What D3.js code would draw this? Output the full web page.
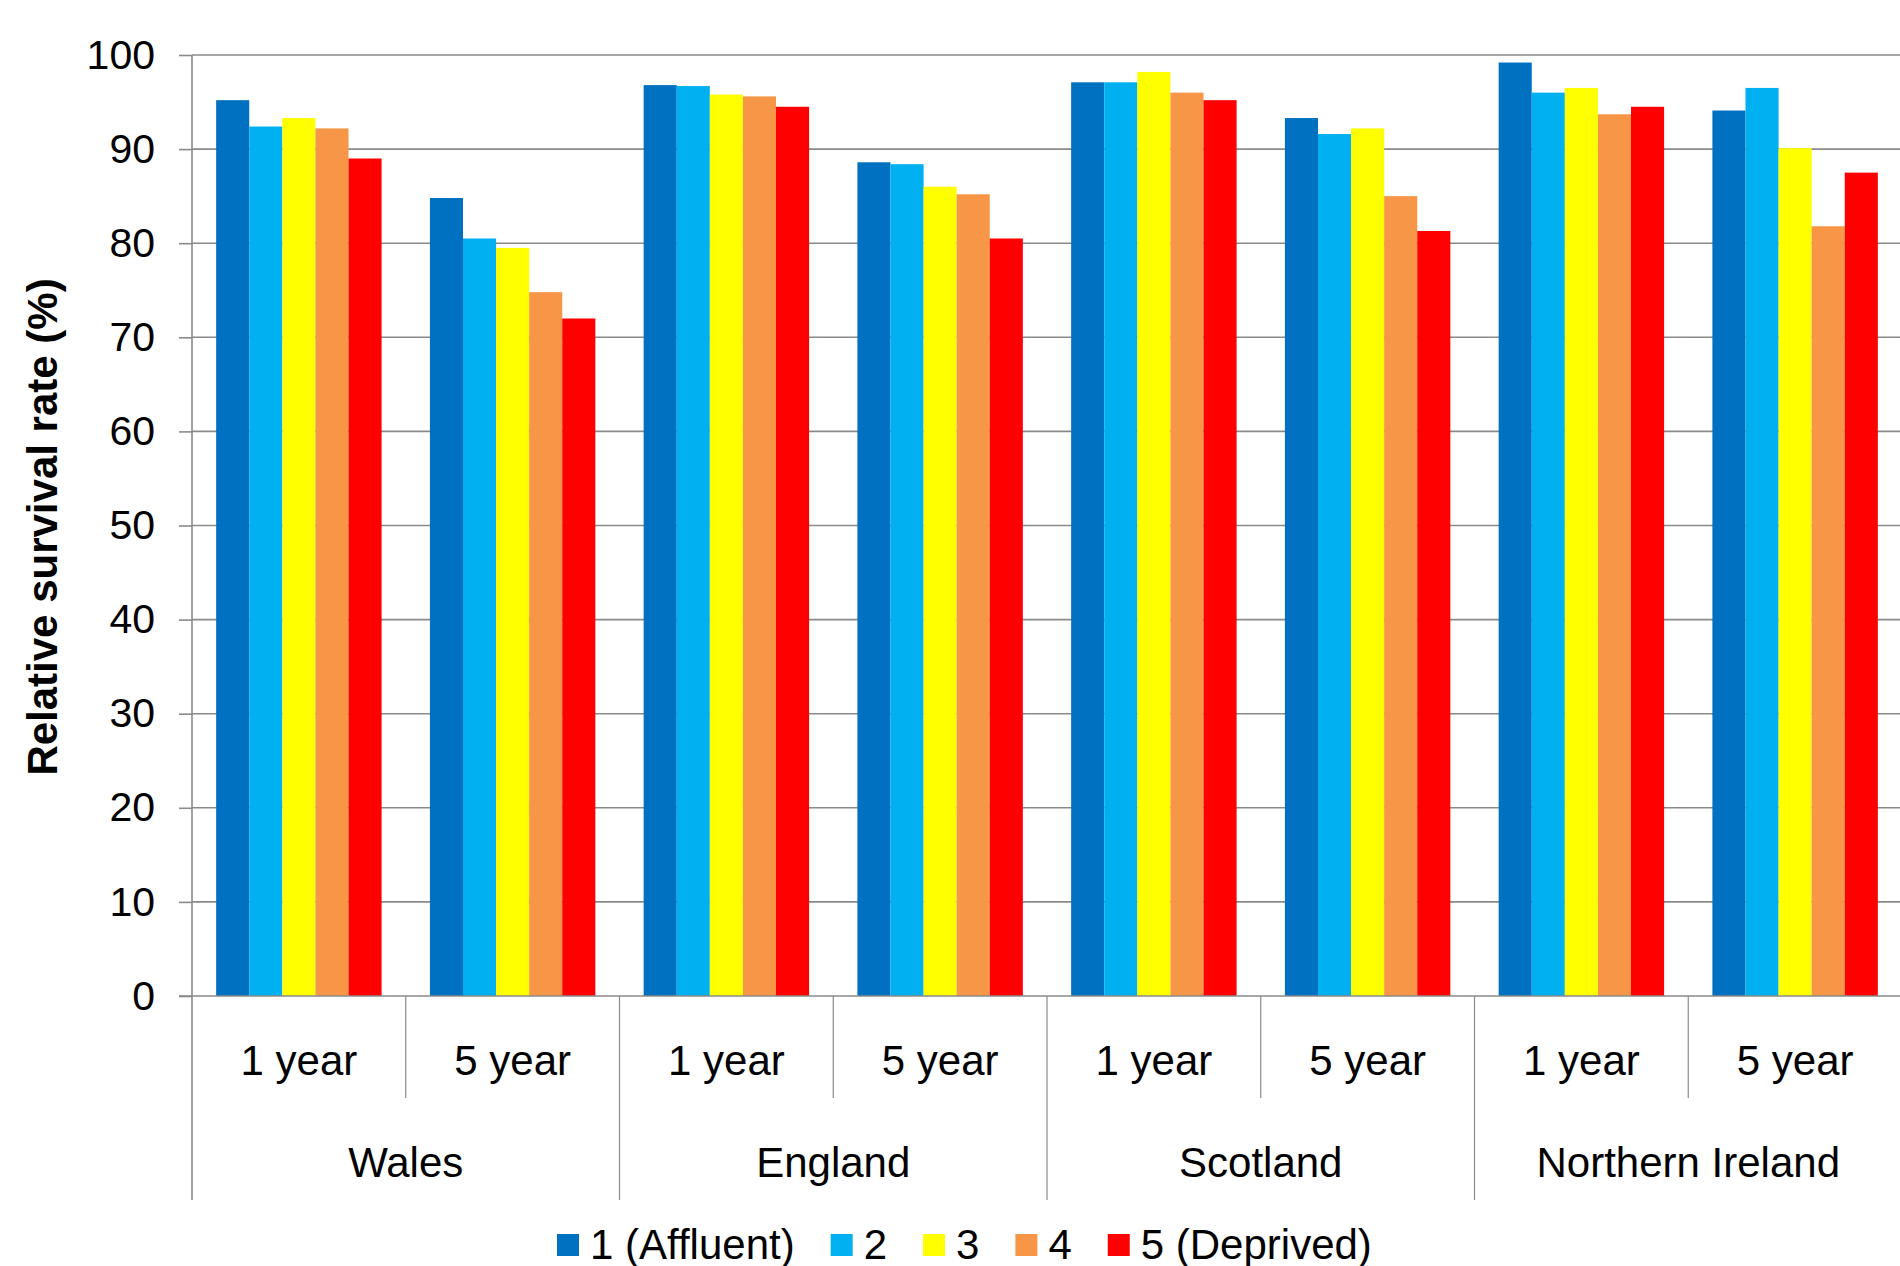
<!DOCTYPE html>
<html><head><meta charset="utf-8">
<script src="https://cdn.jsdelivr.net/npm/d3@7"></script>
<style>
html,body{margin:0;padding:0;background:#fff;}
svg{display:block;font-family:"Liberation Sans",Arial,sans-serif;}
</style></head>
<body><svg id="chart" width="1900" height="1266"></svg>
<script>
const countries = ["Wales", "England", "Scotland", "Northern Ireland"];
const periods = ["1 year", "5 year"];
const seriesNames = ["1 (Affluent)", "2", "3", "4", "5 (Deprived)"];
const seriesColors = ["#0070C0", "#00B0F0", "#FFFF00", "#F79646", "#FF0000"];
const yTicks = [0, 10, 20, 30, 40, 50, 60, 70, 80, 90, 100];
// values per series, ordered Wales 1y, Wales 5y, England 1y, England 5y, Scotland 1y, Scotland 5y, NI 1y, NI 5y
const affluent1 = [95.2, 84.8, 96.8, 88.6, 97.1, 93.3, 99.2, 94.1];
const quint2    = [92.4, 80.5, 96.7, 88.4, 97.1, 91.6, 96.0, 96.5];
const quint3    = [93.3, 79.5, 95.8, 86.0, 98.2, 92.2, 96.5, 90.1];
const quint4    = [92.2, 74.8, 95.6, 85.2, 96.0, 85.0, 93.7, 81.8];
const deprived5 = [89.0, 72.0, 94.5, 80.5, 95.2, 81.3, 94.5, 87.5];
const seriesValues = [affluent1, quint2, quint3, quint4, deprived5];

(function () {
const svg = d3.select("#chart");
const plotLeft = 192, plotRight = 1902, plotTop = 55, plotBottom = 996;
const groups = [];
countries.forEach(c => periods.forEach(p => groups.push(c + "|" + p)));

const x0 = d3.scaleBand().domain(groups).range([plotLeft, plotRight]).paddingInner(0.226).paddingOuter(0.113);
const x1 = d3.scaleBand().domain(seriesNames).range([0, x0.bandwidth()]);
const y = d3.scaleLinear().domain([0, 100]).range([plotBottom, plotTop]);
const step = x0.step();
const gridColor = "#8a8a8a";

// gridlines
svg.append("g").selectAll("line").data(yTicks.filter(t => t > 0)).join("line")
  .attr("x1", plotLeft).attr("x2", 1900).attr("y1", d => y(d)).attr("y2", d => y(d))
  .attr("stroke", gridColor).attr("stroke-width", 1.6);

// bars
const barG = svg.append("g");
groups.forEach((g, gi) => {
  seriesNames.forEach((s, si) => {
    const v = seriesValues[si][gi];
    barG.append("rect")
      .attr("x", x0(g) + x1(s))
      .attr("y", y(v))
      .attr("width", x1.bandwidth())
      .attr("height", y(0) - y(v))
      .attr("fill", seriesColors[si]);
  });
});

// y axis
const yAxis = d3.axisLeft(y).tickValues(yTicks).tickSize(13).tickPadding(24).tickFormat(d3.format("d"));
const ya = svg.append("g").attr("transform", `translate(${plotLeft},0)`).call(yAxis);
ya.select(".domain").remove();
ya.selectAll(".tick line").attr("stroke", gridColor).attr("stroke-width", 1.6);
ya.selectAll(".tick text").attr("font-size", 41).attr("fill", "#000")
  .attr("font-family", "'Liberation Sans', Arial, sans-serif");

// x axis baseline
svg.append("line").attr("x1", plotLeft - 13).attr("x2", 1900).attr("y1", plotBottom).attr("y2", plotBottom)
  .attr("stroke", gridColor).attr("stroke-width", 1.6);

// vertical axis line + category dividers
for (let i = 0; i <= groups.length; i++) {
  const xx = plotLeft + i * step;
  const isCountry = i % 2 === 0;
  svg.append("line")
    .attr("x1", xx).attr("x2", xx)
    .attr("y1", i === 0 ? plotTop : plotBottom)
    .attr("y2", isCountry ? 1200 : 1098)
    .attr("stroke", gridColor).attr("stroke-width", i === 0 ? 1.6 : 1.2);
}

// subcategory labels
svg.append("g").selectAll("text").data(groups).join("text")
  .attr("x", d => x0(d) + x0.bandwidth() / 2)
  .attr("y", 1075)
  .attr("text-anchor", "middle")
  .attr("font-size", 42)
  .text(d => d.split("|")[1]);

// country labels
svg.append("g").selectAll("text").data(countries).join("text")
  .attr("x", (d, i) => plotLeft + (i * 2 + 1) * step)
  .attr("y", 1177)
  .attr("text-anchor", "middle")
  .attr("font-size", 42)
  .text(d => d);

// y title
svg.append("text")
  .attr("transform", "translate(57,527) rotate(-90)")
  .attr("text-anchor", "middle")
  .attr("font-size", 42)
  .attr("font-weight", "bold")
  .text("Relative survival rate (%)");

// legend
const legend = svg.append("g");
let lx = 557;
seriesNames.forEach((s, i) => {
  legend.append("rect").attr("x", lx).attr("y", 1234).attr("width", 22).attr("height", 22)
    .attr("fill", seriesColors[i]);
  const t = legend.append("text").attr("x", lx + 33).attr("y", 1259).attr("font-size", 42).text(s);
  const w = t.node().getComputedTextLength();
  lx = lx + 33 + w + 36;
});
})();
</script>
</body></html>
